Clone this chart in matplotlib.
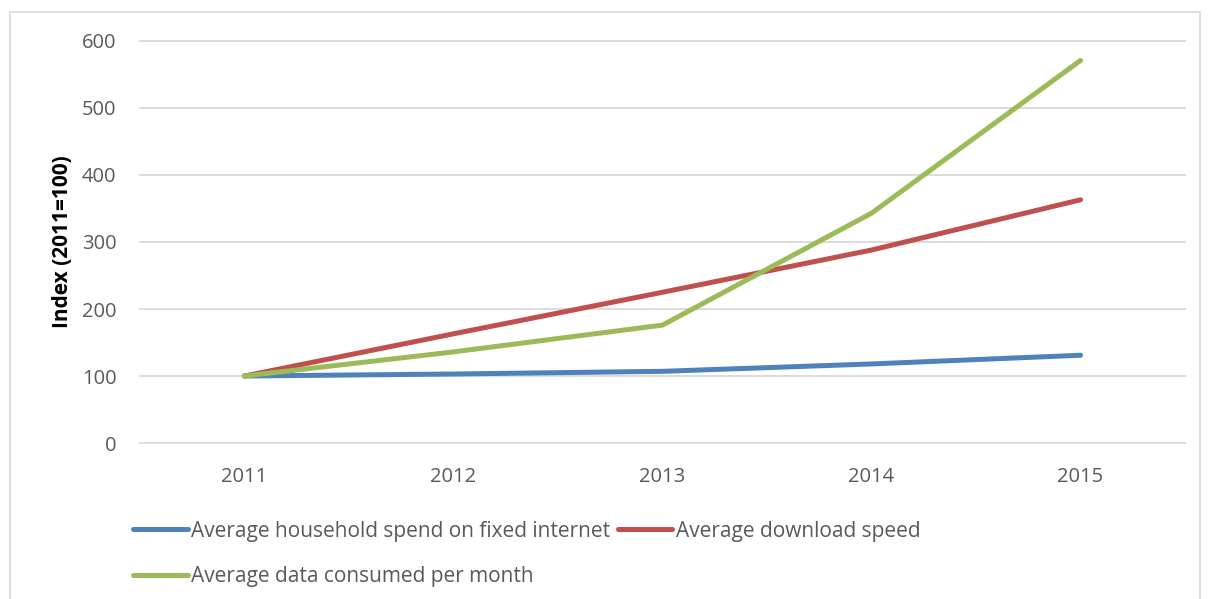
import matplotlib.pyplot as plt
import numpy as np
from matplotlib.patches import Rectangle

# data
years = ['2011', '2012', '2013', '2014', '2015']
spend = [100, 103, 107, 118, 131]
speed = [100, 163, 225, 288, 363]
data_used = [100, 136, 176, 343, 571]
labels = ['Average household spend on fixed internet',
          'Average download speed',
          'Average data consumed per month']

plt.rcParams['font.family'] = ['Open Sans', 'DejaVu Sans']

fig = plt.figure(figsize=(12.08, 5.99), dpi=100)
ax = fig.add_axes([0.1159, 0.2604, 0.8651, 0.6712])

x = np.arange(len(years))
l1, = ax.plot(x, spend, color='#4F81BD', lw=3.6, solid_capstyle='round', zorder=3)
l2, = ax.plot(x, speed, color='#C0504D', lw=3.6, solid_capstyle='round', zorder=3)
l3, = ax.plot(x, data_used, color='#9BBB59', lw=3.6, solid_capstyle='round', zorder=3)

ax.set_xlim(-0.5, len(years) - 0.5)
ax.set_ylim(0, 600)
ax.set_yticks(range(0, 601, 100))
ax.set_xticks(x)
ax.set_xticklabels(years)
ax.yaxis.grid(True, color='#D9D9D9', lw=1.3, zorder=0)
for s in ax.spines.values():
    s.set_visible(False)
for gl in ax.get_ygridlines():
    gl.set_clip_on(False)
ax.tick_params(length=0, labelsize=14.5, labelcolor='#595959')
ax.tick_params(axis='x', pad=17)
ax.tick_params(axis='y', pad=17)
ax.set_ylabel('Index (2011=100)', fontsize=15, fontweight='bold', labelpad=6)

# row-wise legend order like Excel
fig.legend([l1, l3, l2], [labels[0], labels[2], labels[1]], ncol=2,
           loc='upper left', bbox_to_anchor=(0.1105, 0.131), frameon=False,
           fontsize=15, handlelength=2.6, handletextpad=0.15,
           columnspacing=0.4, labelspacing=1.17, borderpad=0, borderaxespad=0,
           labelcolor='#595959')

# outer chart border
fig.patches.append(Rectangle((10 / 1208, -0.01), 1190 / 1208, 1 - 12 / 599 + 0.01,
                             transform=fig.transFigure, fill=False,
                             edgecolor='#D9D9D9', lw=1.2))

fig.savefig('out.png', dpi=100)
